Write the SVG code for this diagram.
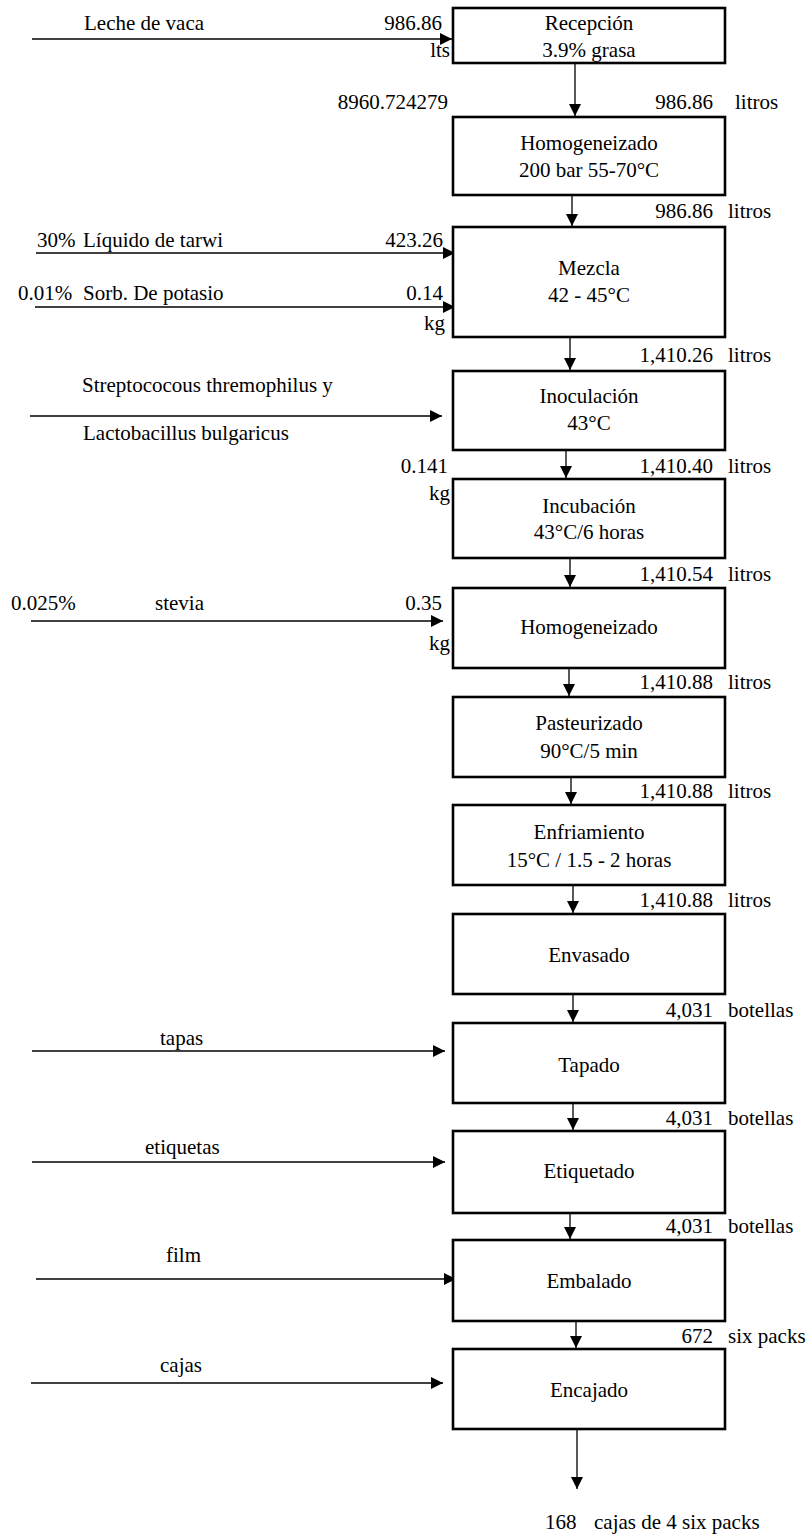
<svg xmlns="http://www.w3.org/2000/svg" width="806" height="1538" viewBox="0 0 806 1538">
<style>
text{font-family:'Liberation Serif',Tinos,'Times New Roman','Noto Serif','DejaVu Serif',serif;font-size:21px;fill:#000}
.c{text-anchor:middle}
.e{text-anchor:end}
.box{fill:#fff;stroke:#000;stroke-width:2.6}
.ln{stroke:#000;stroke-width:1.3;fill:none}
</style>
<defs>
<marker id="ah" markerWidth="12" markerHeight="12" refX="12" refY="6" orient="auto" markerUnits="userSpaceOnUse">
<path d="M0,0 L12,6 L0,12 z" fill="#000"/>
</marker>
</defs>
<rect width="806" height="1538" fill="#fff"/>

<g id="connectors">
<line class="ln" x1="575" y1="63" x2="575" y2="116" marker-end="url(#ah)"/>
<line class="ln" x1="572" y1="195" x2="572" y2="226" marker-end="url(#ah)"/>
<line class="ln" x1="570" y1="337" x2="570" y2="370" marker-end="url(#ah)"/>
<line class="ln" x1="566" y1="450" x2="566" y2="478" marker-end="url(#ah)"/>
<line class="ln" x1="570" y1="558" x2="570" y2="587" marker-end="url(#ah)"/>
<line class="ln" x1="569" y1="668" x2="569" y2="696" marker-end="url(#ah)"/>
<line class="ln" x1="571" y1="777" x2="571" y2="804" marker-end="url(#ah)"/>
<line class="ln" x1="573" y1="885" x2="573" y2="913" marker-end="url(#ah)"/>
<line class="ln" x1="573" y1="994" x2="573" y2="1022" marker-end="url(#ah)"/>
<line class="ln" x1="573" y1="1103" x2="573" y2="1130" marker-end="url(#ah)"/>
<line class="ln" x1="570" y1="1213" x2="570" y2="1239" marker-end="url(#ah)"/>
<line class="ln" x1="576" y1="1321" x2="576" y2="1348" marker-end="url(#ah)"/>
<line class="ln" x1="577" y1="1428" x2="577" y2="1489" marker-end="url(#ah)"/>

<line class="ln" x1="32" y1="39" x2="452" y2="39" marker-end="url(#ah)"/>
<line class="ln" x1="36" y1="253" x2="455" y2="253" marker-end="url(#ah)"/>
<line class="ln" x1="35" y1="307" x2="455" y2="307" marker-end="url(#ah)"/>
<line class="ln" x1="30" y1="416" x2="442" y2="416" marker-end="url(#ah)"/>
<line class="ln" x1="31" y1="621" x2="443" y2="621" marker-end="url(#ah)"/>
<line class="ln" x1="32" y1="1051" x2="445" y2="1051" marker-end="url(#ah)"/>
<line class="ln" x1="32" y1="1162" x2="445" y2="1162" marker-end="url(#ah)"/>
<line class="ln" x1="36" y1="1279" x2="456" y2="1279" marker-end="url(#ah)"/>
<line class="ln" x1="31" y1="1383" x2="443" y2="1383" marker-end="url(#ah)"/>
</g>

<g id="recepcion">
<rect class="box" x="453" y="8" width="272" height="55"/>
<text class="c" x="589" y="30">Recepción</text>
<text class="c" x="589" y="57">3.9% grasa</text>
</g>
<g id="homogeneizado1">
<rect class="box" x="453" y="117" width="272" height="78"/>
<text class="c" x="589" y="150">Homogeneizado</text>
<text class="c" x="589" y="177">200 bar 55-70°C</text>
</g>
<g id="mezcla">
<rect class="box" x="453" y="227" width="272" height="110"/>
<text class="c" x="589" y="275">Mezcla</text>
<text class="c" x="589" y="302">42 - 45°C</text>
</g>
<g id="inoculacion">
<rect class="box" x="453" y="371" width="272" height="79"/>
<text class="c" x="589" y="403">Inoculación</text>
<text class="c" x="589" y="430">43°C</text>
</g>
<g id="incubacion">
<rect class="box" x="453" y="479" width="272" height="79"/>
<text class="c" x="589" y="513">Incubación</text>
<text class="c" x="589" y="539">43°C/6 horas</text>
</g>
<g id="homogeneizado2">
<rect class="box" x="453" y="588" width="272" height="80"/>
<text class="c" x="589" y="634">Homogeneizado</text>
</g>
<g id="pasteurizado">
<rect class="box" x="453" y="697" width="272" height="80"/>
<text class="c" x="589" y="730">Pasteurizado</text>
<text class="c" x="589" y="758">90°C/5 min</text>
</g>
<g id="enfriamiento">
<rect class="box" x="453" y="805" width="272" height="80"/>
<text class="c" x="589" y="839">Enfriamiento</text>
<text class="c" x="589" y="867">15°C / 1.5 - 2 horas</text>
</g>
<g id="envasado">
<rect class="box" x="453" y="914" width="272" height="80"/>
<text class="c" x="589" y="962">Envasado</text>
</g>
<g id="tapado">
<rect class="box" x="453" y="1023" width="272" height="80"/>
<text class="c" x="589" y="1072">Tapado</text>
</g>
<g id="etiquetado">
<rect class="box" x="453" y="1131" width="272" height="82"/>
<text class="c" x="589" y="1178">Etiquetado</text>
</g>
<g id="embalado">
<rect class="box" x="453" y="1240" width="272" height="81"/>
<text class="c" x="589" y="1288">Embalado</text>
</g>
<g id="encajado">
<rect class="box" x="453" y="1349" width="272" height="80"/>
<text class="c" x="589" y="1397">Encajado</text>
</g>

<g id="labels">
<text x="84" y="30">Leche de vaca</text>
<text class="e" x="442" y="30">986.86</text>
<text class="e" x="450" y="57">lts</text>
<text class="e" x="448" y="109">8960.724279</text>

<text x="37" y="247">30%</text>
<text x="83" y="247">Líquido de tarwi</text>
<text class="e" x="443" y="247">423.26</text>
<text x="18" y="300">0.01%</text>
<text x="83" y="300">Sorb. De potasio</text>
<text class="e" x="443" y="300">0.14</text>
<text class="e" x="445" y="330">kg</text>

<text x="82" y="392">Streptococous thremophilus y</text>
<text x="83" y="440">Lactobacillus bulgaricus</text>
<text class="e" x="448" y="473">0.141</text>
<text class="e" x="450" y="500">kg</text>

<text x="11" y="610">0.025%</text>
<text x="155" y="610">stevia</text>
<text class="e" x="442" y="610">0.35</text>
<text class="e" x="450" y="650">kg</text>

<text x="160" y="1045">tapas</text>
<text x="145" y="1154">etiquetas</text>
<text x="166" y="1262">film</text>
<text x="160" y="1372">cajas</text>

<text class="e" x="713" y="109">986.86</text><text x="735" y="109">litros</text>
<text class="e" x="713" y="218">986.86</text><text x="728" y="218">litros</text>
<text class="e" x="713" y="362">1,410.26</text><text x="728" y="362">litros</text>
<text class="e" x="713" y="473">1,410.40</text><text x="728" y="473">litros</text>
<text class="e" x="713" y="581">1,410.54</text><text x="728" y="581">litros</text>
<text class="e" x="713" y="689">1,410.88</text><text x="728" y="689">litros</text>
<text class="e" x="713" y="798">1,410.88</text><text x="728" y="798">litros</text>
<text class="e" x="713" y="907">1,410.88</text><text x="728" y="907">litros</text>
<text class="e" x="713" y="1017">4,031</text><text x="728" y="1017">botellas</text>
<text class="e" x="713" y="1125">4,031</text><text x="728" y="1125">botellas</text>
<text class="e" x="713" y="1233">4,031</text><text x="728" y="1233">botellas</text>
<text class="e" x="713" y="1343">672</text><text x="728" y="1343">six packs</text>

<text x="545" y="1529">168</text>
<text x="594" y="1529">cajas de 4 six packs</text>
</g>
</svg>
